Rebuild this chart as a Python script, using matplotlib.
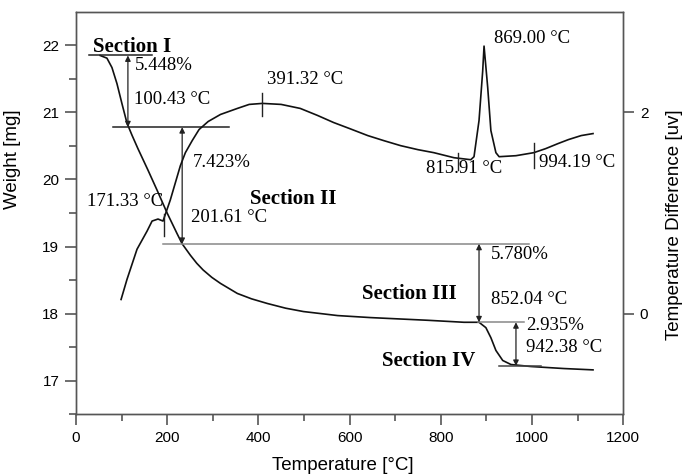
import matplotlib
matplotlib.use("Agg")
import matplotlib.pyplot as plt

# TG curve: temperature [C] vs weight [mg]
tg_temp = [53, 68, 79, 90, 101, 112, 123, 136, 158, 178, 200, 222, 233, 251, 265,
           279, 298, 317, 354, 385, 420, 460, 499, 574, 646, 771, 851, 884, 899,
           910, 921, 936, 954, 998, 1070, 1134]
tg_weight = [21.85, 21.81, 21.67, 21.43, 21.13, 20.84, 20.66, 20.46, 20.14, 19.84,
             19.50, 19.19, 19.04, 18.87, 18.75, 18.65, 18.54, 18.45, 18.30, 18.22,
             18.15, 18.08, 18.03, 17.97, 17.94, 17.90, 17.87, 17.87, 17.79, 17.64,
             17.45, 17.30, 17.24, 17.21, 17.18, 17.16]

# DTA curve: temperature [C] vs temperature difference [uv]
dta_temp = [99, 112, 134, 156, 167, 180, 191, 207, 218, 229, 240, 255, 270, 290, 317,
            354, 380, 409, 450, 492, 530, 565, 600, 640, 675, 712, 750, 785, 829, 866,
            873, 884, 892, 895, 903, 910, 921, 928, 965, 1004, 1030, 1057, 1080, 1108,
            1134]
dta_diff = [0.14, 0.34, 0.64, 0.82, 0.92, 0.94, 0.92, 1.13, 1.30, 1.47, 1.60, 1.72,
            1.83, 1.91, 1.98, 2.04, 2.08, 2.09, 2.08, 2.04, 1.97, 1.90, 1.84, 1.77,
            1.72, 1.67, 1.63, 1.60, 1.55, 1.53, 1.56, 1.92, 2.41, 2.66, 2.25, 1.82,
            1.60, 1.56, 1.57, 1.60, 1.64, 1.69, 1.73, 1.77, 1.79]

# step levels (weight) with their line extents
step_w = [21.85, 20.78, 19.04, 17.87, 17.22]
step_x0 = [29, 81, 190, 881, 928]
step_x1 = [167, 336, 994, 983, 1020]
step_col = ['#222222', '#222222', '#888888', '#888888', '#444444']

# double arrows: x, from weight, to weight
arrow_x = [114, 233, 884, 965]
arrow_top = [21.85, 20.78, 19.04, 17.87]
arrow_bot = [20.78, 19.04, 17.87, 17.22]

# DTA marker ticks: x, low, high
mark_x = [193, 409, 837, 1004]
mark_lo = [0.77, 1.96, 1.43, 1.45]
mark_hi = [0.99, 2.19, 1.60, 1.70]

sections = ['Section I', 'Section II', 'Section III', 'Section IV']
section_x = [37, 382, 628, 672]
section_y = [21.90, 19.64, 18.22, 17.22]

notes = ['5.448%', '100.43 °C', '391.32 °C', '7.423%', '171.33 °C', '201.61 °C',
         '869.00 °C', '815.91 °C', '994.19 °C', '5.780%', '852.04 °C', '2.935%',
         '942.38 °C']
note_x = [129, 128, 420, 257, 24, 253, 917, 767, 1015, 910, 910, 987, 987]
note_y = [21.64, 21.12, 21.43, 20.18, 19.61, 19.36, 22.04, 20.09, 20.18, 18.82,
          18.15, 17.75, 17.43]

serif = 'Liberation Serif'
sans = 'Liberation Sans'
frame = '#555555'

fig = plt.figure(figsize=(6.84, 4.76), dpi=100)
ax = fig.add_axes([0.111, 0.130, 0.800, 0.845])
ax2 = ax.twinx()

ax.plot(tg_temp, tg_weight, color='#111111', lw=1.2)
ax2.plot(dta_temp, dta_diff, color='#111111', lw=1.2)

for i in range(len(step_w)):
    ax.plot([step_x0[i], step_x1[i]], [step_w[i], step_w[i]], color=step_col[i], lw=1.1)

for i in range(len(arrow_x)):
    ax.annotate('', xy=(arrow_x[i], arrow_bot[i]), xytext=(arrow_x[i], arrow_top[i]),
                arrowprops=dict(arrowstyle='<|-|>', color='#222222', lw=0.9,
                                mutation_scale=8, shrinkA=0, shrinkB=0))

for i in range(len(mark_x)):
    ax2.plot([mark_x[i], mark_x[i]], [mark_lo[i], mark_hi[i]], color='#222222', lw=1.0)

for i in range(len(sections)):
    ax.text(section_x[i], section_y[i], sections[i], family=serif, fontsize=15,
            fontweight='bold', ha='left', va='baseline')

for i in range(len(notes)):
    ax.text(note_x[i], note_y[i], notes[i], family=serif, fontsize=13.5,
            ha='left', va='baseline')

ax.set_xlim(0, 1200)
ax.set_ylim(16.5, 22.5)
ax2.set_ylim(-1, 3)
ax.set_xticks([0, 200, 400, 600, 800, 1000, 1200])
ax.set_xticks(range(100, 1200, 200), minor=True)
ax.set_yticks([17, 18, 19, 20, 21, 22])
ax.set_yticks([16.5, 17.5, 18.5, 19.5, 20.5, 21.5], minor=True)
ax2.set_yticks([0, 2])

for a in (ax, ax2):
    for s in a.spines.values():
        s.set_color(frame)
        s.set_linewidth(1.0)
    a.tick_params(which='major', direction='out', length=8, width=1.2, color=frame,
                  labelsize=11, pad=4)
    a.tick_params(which='minor', direction='out', length=5, width=1.2, color=frame)
    for lab in a.get_xticklabels() + a.get_yticklabels():
        lab.set_family(sans)

ax.set_xlabel('Temperature [°C]', family=sans, fontsize=13.5, ha='center', va='center')
ax.xaxis.set_label_coords(0.488, -0.127)
ax.set_ylabel('Weight [mg]', family=sans, fontsize=13.5, ha='center', va='center')
ax.yaxis.set_label_coords(-0.115, 0.634)
ax2.set_ylabel('Temperature Difference [uv]', family=sans, fontsize=13.5,
               ha='center', va='center')
ax2.yaxis.set_label_coords(1.093, 0.47)

fig.savefig('out.png', dpi=100)
